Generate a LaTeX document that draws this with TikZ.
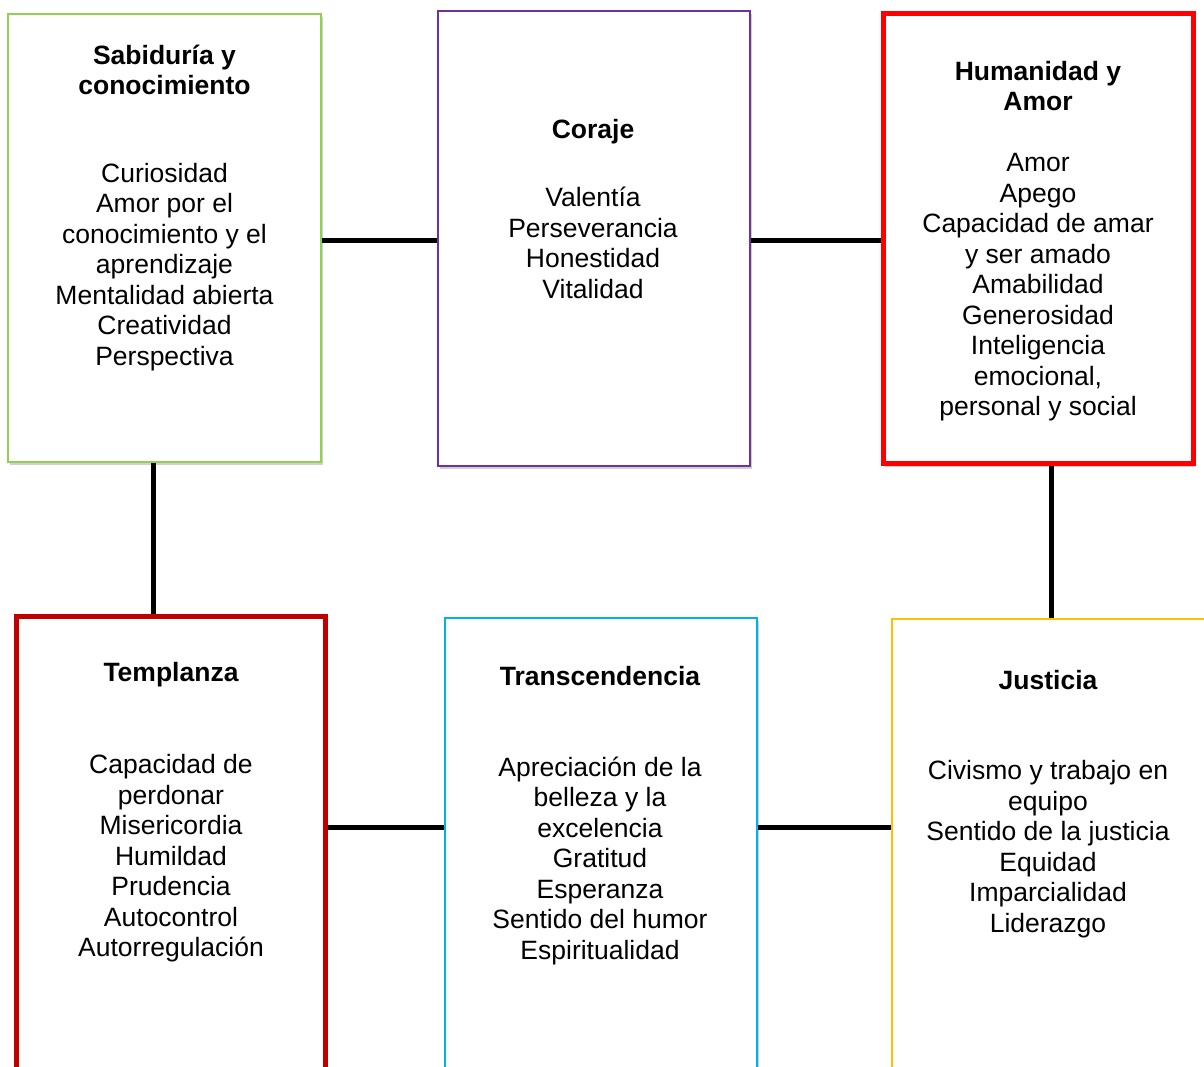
\documentclass[tikz,border=0pt]{standalone}
\usepackage{fontspec}
\setmainfont{Liberation Sans}
\usetikzlibrary{shadows}
\definecolor{cgreen}{HTML}{92D050}
\definecolor{cpurple}{HTML}{7030A0}
\definecolor{cred}{HTML}{FF0000}
\definecolor{cdred}{HTML}{C00000}
\definecolor{cblue}{HTML}{00B0F0}
\definecolor{cgold}{HTML}{FFC000}
\begin{document}
\begin{tikzpicture}[x=0.5pt,y=-0.5pt,
  vbox/.style={draw, rectangle, fill=white, inner sep=0pt,
    drop shadow={shadow xshift=1pt, shadow yshift=-1.5pt, opacity=0.3, fill=black!60}},
  thinbox/.style={vbox, line width=1pt},
  thickbox/.style={vbox, line width=2.5pt},
  ttl/.style={align=center, font=\fontsize{13.25pt}{15.25pt}\selectfont\bfseries, inner sep=0pt},
  body/.style={align=center, font=\fontsize{13.25pt}{15.25pt}\selectfont, inner sep=0pt},
  link/.style={line width=2.5pt, black}]
\useasboundingbox (0,0) rectangle (1204,1066);
\clip (0,0) rectangle (1204,1066);
\fill[white] (0,0) rectangle (1204,1066);
% boxes
\node[thinbox, draw=cgreen, minimum width=156.5pt, minimum height=224pt] (sab) at (164.5,238) {};
\node[thinbox, draw=cpurple, minimum width=156pt, minimum height=227.5pt] (cor) at (593.5,238.5) {};
\node[thickbox, draw=cred, minimum width=155pt, minimum height=225pt] (hum) at (1038,238.5) {};
\node[thickbox, draw=cdred, minimum width=154.5pt, minimum height=260pt] (tem) at (171,876) {};
\node[thinbox, draw=cblue, minimum width=156pt, minimum height=260pt] (tra) at (600.5,878) {};
\node[thinbox, draw=cgold, minimum width=170pt, minimum height=260pt] (jus) at (1062,879) {};
% helper coordinates for connector positions
\coordinate (rowA) at (0,240);
\coordinate (rowB) at (0,827);
\coordinate (colL) at (153,0);
\coordinate (colR) at (1051,0);
% connectors
\draw[link] (sab.east |- rowA) -- (cor.west |- rowA);
\draw[link] (cor.east |- rowA) -- (hum.west |- rowA);
\draw[link] (sab.south -| colL) -- (tem.north -| colL);
\draw[link] (hum.south -| colR) -- (jus.north -| colR);
\draw[link] (tem.east |- rowB) -- (tra.west |- rowB);
\draw[link] (tra.east |- rowB) -- (jus.west |- rowB);
% titles
\node[ttl] (sabT) at (164.5,70) {Sabiduría y\\conocimiento};
\node[ttl] (corT) at (593,132) {Coraje};
\node[ttl] (humT) at (1038,86) {Humanidad y\\Amor};
\node[ttl] (temT) at (171,675) {Templanza};
\node[ttl] (traT) at (600,676) {Transcendencia};
\node[ttl] (jusT) at (1048,680) {Justicia};
% bodies
\node[body] (sabB) at (164.5,267) {Curiosidad\\Amor por el\\conocimiento y el\\aprendizaje\\Mentalidad abierta\\Creatividad\\Perspectiva};
\node[body] (corB) at (593,243) {Valentía\\Perseverancia\\Honestidad\\Vitalidad};
\node[body] (humB) at (1038,287.5) {Amor\\Apego\\Capacidad de amar\\y ser amado\\Amabilidad\\Generosidad\\Inteligencia\\emocional,\\personal y social};
\node[body] (temB) at (171,858.5) {Capacidad de\\perdonar\\Misericordia\\Humildad\\Prudencia\\Autocontrol\\Autorregulación};
\node[body] (traB) at (600,860.5) {Apreciación de la\\belleza y la\\excelencia\\Gratitud\\Esperanza\\Sentido del humor\\Espiritualidad};
\node[body] (jusB) at (1048,849) {Civismo y trabajo en\\equipo\\Sentido de la justicia\\Equidad\\Imparcialidad\\Liderazgo};
\end{tikzpicture}
\end{document}
